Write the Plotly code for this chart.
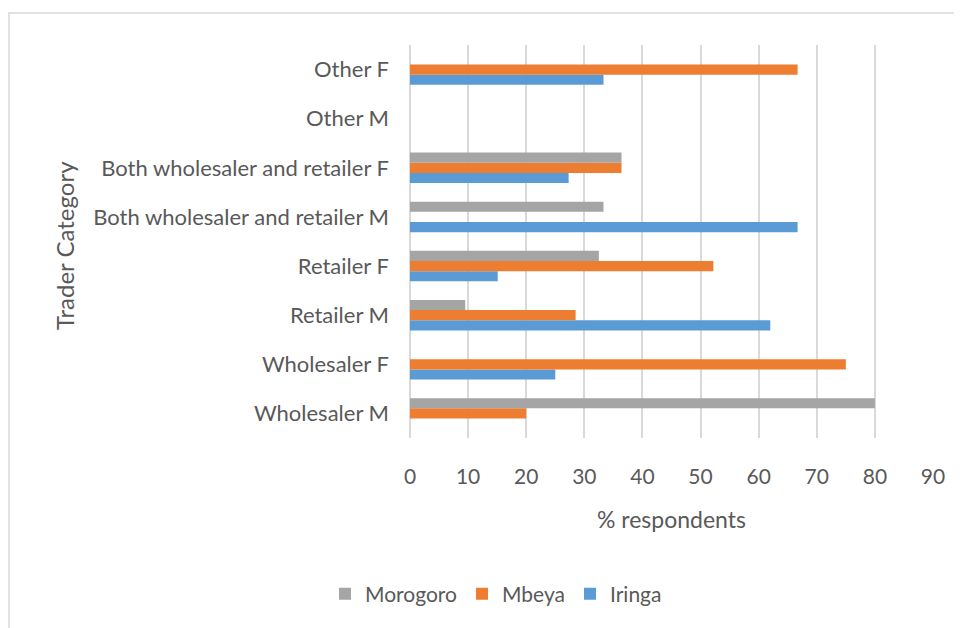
import plotly.graph_objects as go

categories = ["Wholesaler M", "Wholesaler F", "Retailer M", "Retailer F",
              "Both wholesaler and retailer M", "Both wholesaler and retailer F",
              "Other M", "Other F"]
iringa = [0, 25, 62, 15.1, 66.7, 27.3, 0, 33.3]
mbeya = [20, 75, 28.5, 52.2, 0, 36.4, 0, 66.7]
morogoro = [80, 0, 9.5, 32.5, 33.3, 36.4, 0, 0]
x_ticks = [0, 10, 20, 30, 40, 50, 60, 70, 80, 90]

FONT = "Lato"
TXT = "#595959"

fig = go.Figure()
for name, vals, color in [("Iringa", iringa, "#5B9BD5"),
                          ("Mbeya", mbeya, "#ED7D31"),
                          ("Morogoro", morogoro, "#A5A5A5")]:
    fig.add_trace(go.Bar(y=categories, x=vals, name=name, orientation="h",
                         marker=dict(color=color, line=dict(width=0))))

# page has an 8px body margin, so work in screen pixels minus 8
OFF = 8
W, H = 962 - OFF, 628 - OFF
L, R, T, B = 410 - OFF, 933 - OFF, 45 - OFF, 438 - OFF


def px_x(x):
    return (x - OFF - L) / (R - L)


def px_y(y):
    return (B - (y - OFF)) / (B - T)


fig.update_layout(
    width=W, height=H,
    margin=dict(l=L, r=W - R, t=T, b=H - B),
    paper_bgcolor="white", plot_bgcolor="white",
    barmode="group", bargap=0.38, bargroupgap=0,
    font=dict(family=FONT, color=TXT, size=21),
    showlegend=True,
    legend=dict(orientation="h", traceorder="reversed",
                x=px_x(496), y=px_y(594), xanchor="center", yanchor="middle",
                font=dict(size=21, color=TXT), itemwidth=30),
    xaxis=dict(range=[0, 90], tickvals=x_ticks, showgrid=True,
               gridcolor="#D9D9D9", gridwidth=1.5, zeroline=True,
               zerolinecolor="#D9D9D9", zerolinewidth=1.5,
               showline=False, ticklabelstandoff=24,
               tickfont=dict(size=21, color=TXT)),
    yaxis=dict(showgrid=False, showline=False, ticks="",
               ticklabelstandoff=20, tickfont=dict(size=22, color=TXT)),
    shapes=[dict(type="rect", xref="paper", yref="paper",
                 x0=px_x(9), x1=px_x(975), y0=px_y(650), y1=px_y(13),
                 line=dict(color="#D9D9D9", width=1.5), layer="below")],
    annotations=[
        dict(text="% respondents", xref="paper", yref="paper",
             x=px_x(671), y=px_y(519), showarrow=False,
             xanchor="center", yanchor="middle",
             font=dict(size=23, color=TXT)),
        dict(text="Trader Category", xref="paper", yref="paper",
             x=px_x(64), y=px_y(246), showarrow=False, textangle=-90,
             xanchor="center", yanchor="middle",
             font=dict(size=24, color=TXT)),
    ],
)

fig.write_html("out.html")
